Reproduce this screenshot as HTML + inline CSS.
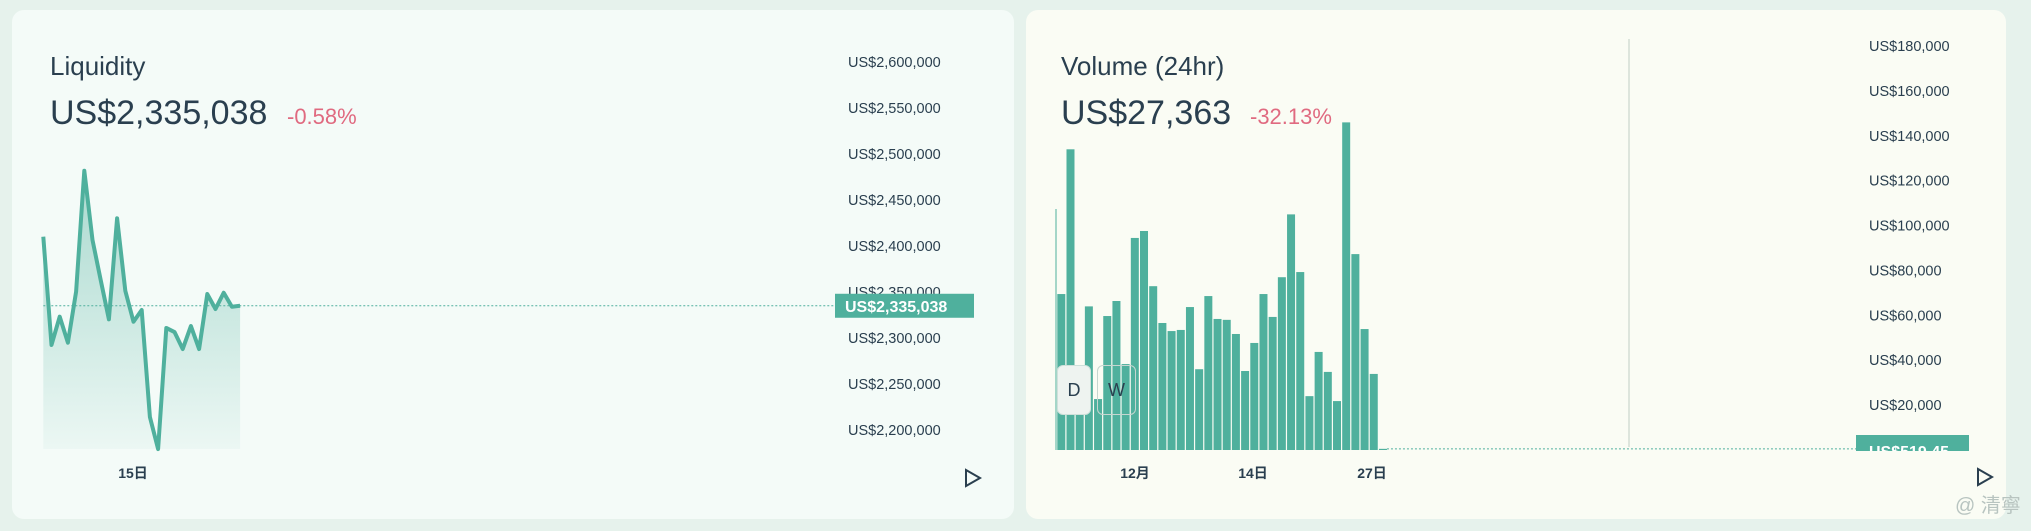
<!DOCTYPE html>
<html><head><meta charset="utf-8"><style>
body{margin:0;width:2031px;height:531px;background:#e6f2ec;font-family:"Liberation Sans","Noto Sans CJK SC",sans-serif;overflow:hidden;position:relative}
.card{position:absolute;top:10px;height:509px;border-radius:12px}
svg{position:absolute;left:0;top:0}
</style></head><body>
<div class="card" style="left:12px;width:1002px;background:#f4fbf8"></div>
<div class="card" style="left:1026px;width:980px;background:#fafcf4"></div>
<svg width="2031" height="531" id="chart">
<defs><linearGradient id="ag" x1="0" y1="0" x2="0" y2="1"><stop offset="0" stop-color="#4fb09d" stop-opacity="0.45"/><stop offset="1" stop-color="#4fb09d" stop-opacity="0.05"/></linearGradient>
<clipPath id="vclip"><rect x="1856" y="435" width="113" height="16"/></clipPath></defs>
<text x="50" y="75" font-size="26" fill="#2a3f4f">Liquidity</text>
<text x="50" y="124" font-size="34" fill="#2a3f4f">US$2,335,038</text>
<text x="287" y="124" font-size="22" fill="#e06a80">-0.58%</text>
<text x="1061" y="75" font-size="26" fill="#2a3f4f">Volume (24hr)</text>
<text x="1061" y="124" font-size="34" fill="#2a3f4f">US$27,363</text>
<text x="1250" y="124" font-size="22" fill="#e06a80">-32.13%</text>
<line x1="1629" y1="39" x2="1629" y2="447" stroke="#dde5dc" stroke-width="2"/>
<line x1="1056" y1="209" x2="1056" y2="450" stroke="#4fb09d" stroke-width="1"/>
<g id="liq"></g><g id="vol"></g>
<text x="133" y="478" font-size="14" font-weight="bold" fill="#2a3f4f" text-anchor="middle">15日</text>
<text x="1135" y="478" font-size="14" font-weight="bold" fill="#2a3f4f" text-anchor="middle">12月</text>
<text x="1253" y="478" font-size="14" font-weight="bold" fill="#2a3f4f" text-anchor="middle">14日</text>
<text x="1372" y="478" font-size="14" font-weight="bold" fill="#2a3f4f" text-anchor="middle">27日</text>
<path d="M966 470 L980 478 L966 486 Z" fill="none" stroke="#2a3f4f" stroke-width="2"/>
<path d="M1978 469 L1992 477 L1978 485 Z" fill="none" stroke="#2a3f4f" stroke-width="2"/>
<text x="1955" y="512" font-size="20" fill="#b8c4c0">@ 清寧</text>
</svg>
<div style="position:absolute;left:1057px;top:365px;width:34px;height:50px;background:#eef3f0;border:1px solid #cfe0da;border-radius:6px;box-sizing:border-box;text-align:center;line-height:48px;font-size:18px;color:#2a3f4f">D</div>
<div style="position:absolute;left:1097px;top:365px;width:39px;height:50px;border:1px solid #c6d6d0;border-radius:6px;box-sizing:border-box;text-align:center;line-height:48px;font-size:18px;color:#2a3f4f">W</div>
<script>
const liqValues=[2410.1,2292.4,2323.2,2294.9,2350.3,2481.8,2406.5,2363,2320.3,2430.1,2351.4,2317.7,2330.4,2214.1,2179.3,2310.9,2306.5,2288,2313,2288,2347.8,2331.5,2349.2,2334,2335.038];
const liqTicks=[2600,2550,2500,2450,2400,2350,2300,2250,2200];
const liqTickLabels=["US$2,600,000","US$2,550,000","US$2,500,000","US$2,450,000","US$2,400,000","US$2,350,000","US$2,300,000","US$2,250,000","US$2,200,000"];
const liqCurrent="US$2,335,038";
const volValues=[69.5,134,30,64,22.7,59.7,66.4,38.3,94.5,97.6,73,56.6,53,53.5,63.7,36,68.6,58.4,58,51.7,35.2,47.7,69.5,59.3,77,105,79.3,24,43.7,34.8,21.8,146,87.3,53.9,33.9,0.519];
const volTicks=[180,160,140,120,100,80,60,40,20];
const volTickLabels=["US$180,000","US$160,000","US$140,000","US$120,000","US$100,000","US$80,000","US$60,000","US$40,000","US$20,000"];
const volCurrent="US$519.45";
const NS="http://www.w3.org/2000/svg";
function mk(tag,attrs,parent){const e=document.createElementNS(NS,tag);for(const k in attrs)e.setAttribute(k,attrs[k]);parent.appendChild(e);return e;}
const ly=v=>430-(v-2200)*0.92, lx=i=>43.3+8.2*i;
const vy=v=>450-v*2.244, vx=i=>1057.3+9.19*i;
const liq=document.getElementById('liq'), vol=document.getElementById('vol');
liqTicks.forEach((t,i)=>{const e=mk('text',{x:848,y:ly(t)+5,'font-size':14.5,fill:'#2a3f4f'},liq);e.textContent=liqTickLabels[i];

});
let d='';liqValues.forEach((v,i)=>{d+=(i?'L':'M')+lx(i)+' '+ly(v)+' ';});
const n=liqValues.length-1;
const area=mk('path',{d:d+'L'+lx(n)+' 449 L'+lx(0)+' 449 Z',fill:'url(#ag)'},liq);


const line=mk('path',{d:d,fill:'none',stroke:'#4fb09d','stroke-width':4,'stroke-linejoin':'round'},liq);


const cy=ly(liqValues[n]);
const dl=mk('line',{x1:lx(0),y1:cy,x2:835,y2:cy,stroke:'#4fb09d','stroke-dasharray':'2 2','stroke-width':1},liq);


const lb=mk('rect',{x:835,y:cy-12,width:139,height:24,fill:'#4fb09d'},liq);


const lt=mk('text',{x:845,y:cy+6,'font-size':16,'font-weight':'bold',fill:'#fff'},liq);lt.textContent=liqCurrent;


volTicks.forEach((t,i)=>{const e=mk('text',{x:1869,y:vy(t)+5,'font-size':14.5,fill:'#2a3f4f'},vol);e.textContent=volTickLabels[i];

});
volValues.forEach((v,i)=>{const r=mk('rect',{x:vx(i),y:vy(v),width:8,height:450-vy(v),fill:'#4fb09d'},vol);

});
const vl=vy(volValues[volValues.length-1]);
const vd=mk('line',{x1:vx(volValues.length-1)+8,y1:vl,x2:1856,y2:vl,stroke:'#4fb09d','stroke-dasharray':'2 2'},vol);


const vb=mk('rect',{x:1856,y:435,width:113,height:16,fill:'#4fb09d'},vol);


const vt=mk('text',{x:1869,y:457,'font-size':16,'font-weight':'bold',fill:'#fff','clip-path':'url(#vclip)'},vol);vt.textContent=volCurrent;


</script>
</body></html>
